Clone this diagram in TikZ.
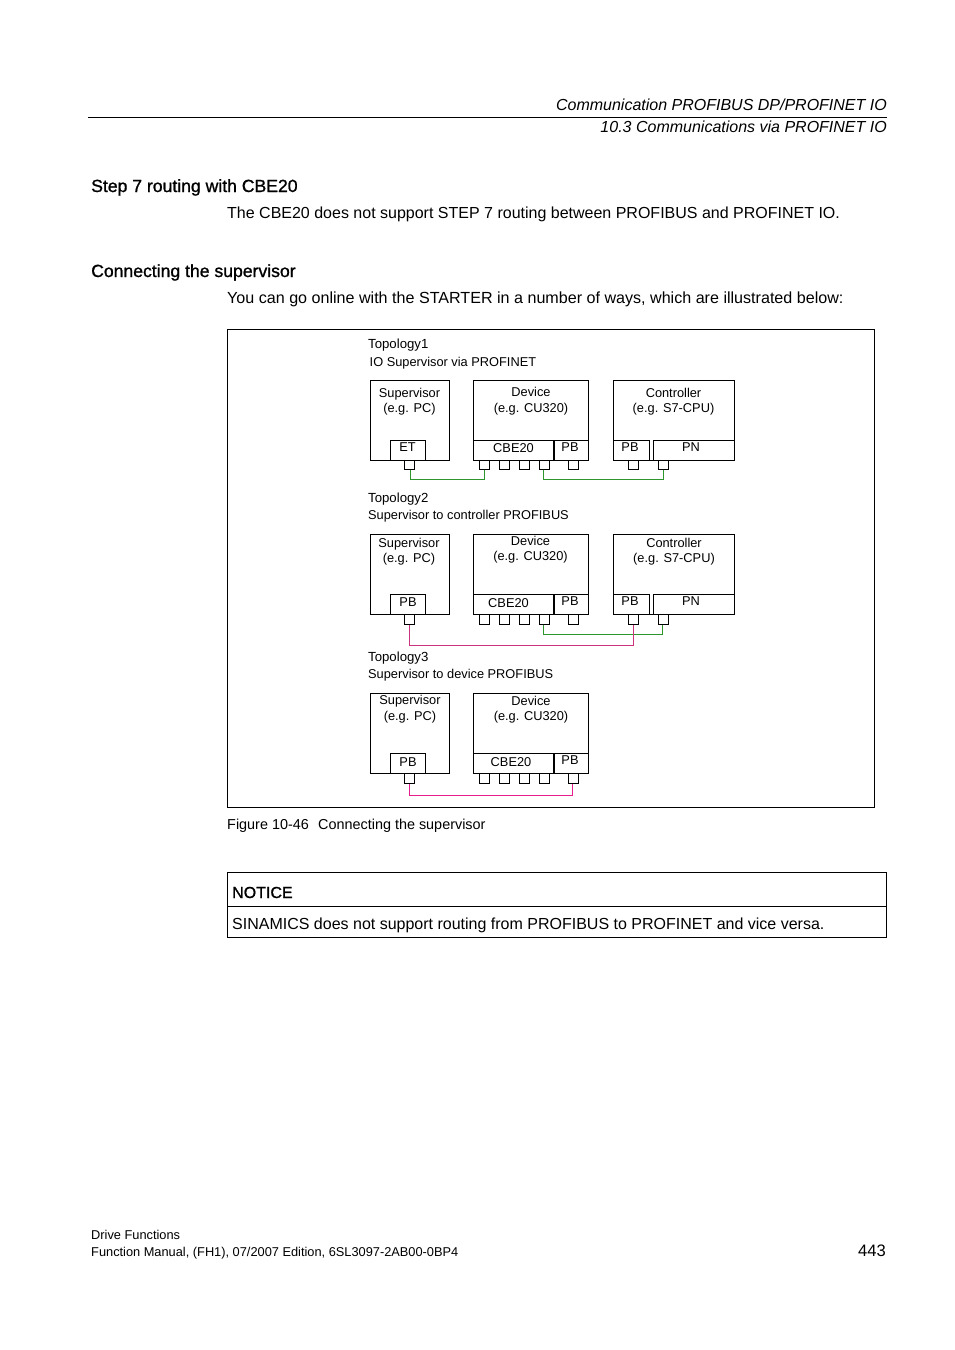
\documentclass[tikz,border=0pt]{standalone}
\usepackage{fontspec}
\setmainfont{Liberation Sans}
\newfontfamily\headfont[FakeBold=1.1]{Liberation Sans}
\definecolor{W}{RGB}{44, 150, 44}
\definecolor{M}{RGB}{205, 50, 125}
\definecolor{P}{RGB}{230, 30, 140}
\tikzset{
  txt/.style={inner sep=0pt, anchor=base west, font=\fontsize{16}{20}\selectfont},
  hdr/.style={inner sep=0pt, anchor=base east, font=\fontsize{16}{20}\selectfont\itshape},
  head/.style={inner sep=0pt, anchor=base west, font=\fontsize{17.6}{20}\headfont},
  small/.style={inner sep=0pt, anchor=base west, font=\fontsize{12.8}{15}\selectfont},
  topo/.style={small, font=\fontsize{13.2}{15}\selectfont},
  lbl/.style={inner sep=0pt, anchor=base, font=\fontsize{12.8}{15}\selectfont},
  box/.style={draw, line width=1pt, inner sep=0pt, outer sep=0pt, anchor=north west},
  port/.style={box, minimum width=10pt, minimum height=10pt},
  wire/.style={line width=1pt}
}
\begin{document}
\begin{tikzpicture}[x=1pt,y=-1pt]
  \useasboundingbox (0,0) rectangle (954,1350);
  % page header
  \draw[line width=1pt] (88,117.5) -- (887,117.5);
  \node[hdr] (hdra) at (887,110) {Communication PROFIBUS DP/PROFINET IO};
  \node[hdr] (hdrb) at (887,132) {10.3 Communications via PROFINET IO};
  \node[head] (heada) at (91,192) {Step 7 routing with CBE20};
  \node[txt] (parb) at (227,218) {The CBE20 does not support STEP 7 routing between PROFIBUS and PROFINET IO.};
  \node[head] (headb) at (91,277) {Connecting the supervisor};
  \node[txt, font=\fontsize{16.1}{20}\selectfont] (parc) at (227,303) {You can go online with the STARTER in a number of ways, which are illustrated below:};
  % figure frame
  \draw[line width=1pt] (227.5,329.5) rectangle (874.5,807.5);
  % topology 1
  \node[topo] (ta) at (368,348) {Topology1};
  \node[small] (tb) at (369.5,366) {IO Supervisor via PROFINET};
  \node[box, minimum width=79pt, minimum height=80pt] (sa) at (370.5,380.5) {};
  \node[box, minimum width=35pt, minimum height=20pt] (sae) at (390.5,440.5) {};
  \node[box, minimum width=115pt, minimum height=80pt] (da) at (473.5,380.5) {};
  \node[box, minimum width=80pt, minimum height=20pt] (dac) at (473.5,440.5) {};
  \node[box, minimum width=34pt, minimum height=20pt] (dap) at (554.5,440.5) {};
  \node[box, minimum width=121pt, minimum height=80pt] (ca) at (613.5,380.5) {};
  \node[box, minimum width=36pt, minimum height=20pt] (cab) at (613.5,440.5) {};
  \node[box, minimum width=81pt, minimum height=20pt] (can) at (653.5,440.5) {};
  \node[lbl] at (409.5,397) {Supervisor};
  \node[lbl] at (409.5,412) {(e.g. PC)};
  \node[lbl] at (531,396) {Device};
  \node[lbl] at (531,412) {(e.g. CU320)};
  \node[lbl] at (673.5,397) {Controller};
  \node[lbl] at (673.5,412) {(e.g. S7-CPU)};
  \node[lbl] at (407.5,451) {ET};
  \node[lbl] at (513.5,452) {CBE20};
  \node[lbl] at (570,451) {PB};
  \node[lbl] at (630,451) {PB};
  \node[lbl] at (691,451) {PN};
  \node[port, minimum height=9pt] (pa) at (404.5,460.5) {};
  \node[port, minimum height=9pt] (pb) at (479.5,460.5) {};
  \node[port, minimum height=9pt] (pc) at (499.5,460.5) {};
  \node[port, minimum height=9pt] (pd) at (519.5,460.5) {};
  \node[port, minimum height=9pt] (pe) at (539.5,460.5) {};
  \node[port, minimum height=9pt] (pf) at (568.5,460.5) {};
  \node[port, minimum height=9pt] (pg) at (628.5,460.5) {};
  \node[port, minimum height=9pt] (ph) at (658.5,460.5) {};
  \draw[wire, W] ([xshift=1pt]pa.south) -- ++(0,10) -| (pb.south);
  \draw[wire, W] ([xshift=-1pt]pe.south) -- ++(0,10) -| (ph.south);
  % topology 2
  \node[topo] (tc) at (368,502) {Topology2};
  \node[small] (td) at (368,519) {Supervisor to controller PROFIBUS};
  \node[box, minimum width=79pt, minimum height=80pt] (sb) at (370.5,534.5) {};
  \node[box, minimum width=35pt, minimum height=20pt] (sbe) at (390.5,594.5) {};
  \node[box, minimum width=115pt, minimum height=80pt] (db) at (473.5,534.5) {};
  \node[box, minimum width=80pt, minimum height=20pt] (dbc) at (473.5,594.5) {};
  \node[box, minimum width=34pt, minimum height=20pt] (dbp) at (554.5,594.5) {};
  \node[box, minimum width=121pt, minimum height=80pt] (cb) at (613.5,534.5) {};
  \node[box, minimum width=36pt, minimum height=20pt] (cbb) at (613.5,594.5) {};
  \node[box, minimum width=81pt, minimum height=20pt] (cbn) at (653.5,594.5) {};
  \node[lbl] at (409,547) {Supervisor};
  \node[lbl] at (409,562) {(e.g. PC)};
  \node[lbl] at (530.5,545) {Device};
  \node[lbl] at (530.5,560) {(e.g. CU320)};
  \node[lbl] at (674,547) {Controller};
  \node[lbl] at (674,562) {(e.g. S7-CPU)};
  \node[lbl] at (408,606) {PB};
  \node[lbl] at (508.5,607) {CBE20};
  \node[lbl] at (570,605) {PB};
  \node[lbl] at (630,605) {PB};
  \node[lbl] at (691,605) {PN};
  \node[port] (qa) at (404.5,614.5) {};
  \node[port] (qb) at (479.5,614.5) {};
  \node[port] (qc) at (499.5,614.5) {};
  \node[port] (qd) at (519.5,614.5) {};
  \node[port] (qe) at (539.5,614.5) {};
  \node[port] (qf) at (568.5,614.5) {};
  \node[port] (qg) at (628.5,614.5) {};
  \node[port] (qh) at (658.5,614.5) {};
  \draw[wire, W] ([xshift=-1pt]qe.south) -- ++(0,10) -| ([xshift=-1pt]qh.south);
  \draw[wire, M] (qa.south) -- ++(0,21) -| (qg.south);
  % topology 3
  \node[topo] (te) at (368,661) {Topology3};
  \node[small] (tf) at (368,678) {Supervisor to device PROFIBUS};
  \node[box, minimum width=79pt, minimum height=80pt] (sc) at (370.5,693.5) {};
  \node[box, minimum width=35pt, minimum height=20pt] (sce) at (390.5,753.5) {};
  \node[box, minimum width=115pt, minimum height=80pt] (dc) at (473.5,693.5) {};
  \node[box, minimum width=80pt, minimum height=20pt] (dcc) at (473.5,753.5) {};
  \node[box, minimum width=34pt, minimum height=20pt] (dcp) at (554.5,753.5) {};
  \node[lbl] at (410,704) {Supervisor};
  \node[lbl] at (410,720) {(e.g. PC)};
  \node[lbl] at (531,705) {Device};
  \node[lbl] at (531,720) {(e.g. CU320)};
  \node[lbl] at (408,766) {PB};
  \node[lbl] at (511,766) {CBE20};
  \node[lbl] at (570,764) {PB};
  \node[port] (ra) at (404.5,773.5) {};
  \node[port] (rb) at (479.5,773.5) {};
  \node[port] (rc) at (499.5,773.5) {};
  \node[port] (rd) at (519.5,773.5) {};
  \node[port] (re) at (539.5,773.5) {};
  \node[port] (rf) at (568.5,773.5) {};
  \draw[wire, P] (ra.south) -- ++(0,12) -| ([xshift=-1pt]rf.south);
  % caption and notice
  \node[txt, font=\fontsize{14.4}{18}\selectfont] (cap) at (227,829) {Figure 10-46\hspace{0.65em}Connecting the supervisor};
  \draw[line width=1pt] (227.5,872.5) rectangle (886.5,937.5);
  \draw[line width=1pt] (227.5,906.5) -- (886.5,906.5);
  \node[head, font=\fontsize{16}{20}\headfont] (ntc) at (232,898) {NOTICE};
  \node[txt] (ntd) at (232,929) {SINAMICS does not support routing from PROFIBUS to PROFINET and vice versa.};
  % page footer
  \node[small] (fa) at (91,1239) {Drive Functions};
  \node[small] (fb) at (91,1256) {Function Manual, (FH1), 07/2007 Edition, 6SL3097-2AB00-0BP4};
  \node[txt, anchor=base east, font=\fontsize{16.6}{20}\selectfont] (fc) at (886,1256) {443};
\end{tikzpicture}
\end{document}
